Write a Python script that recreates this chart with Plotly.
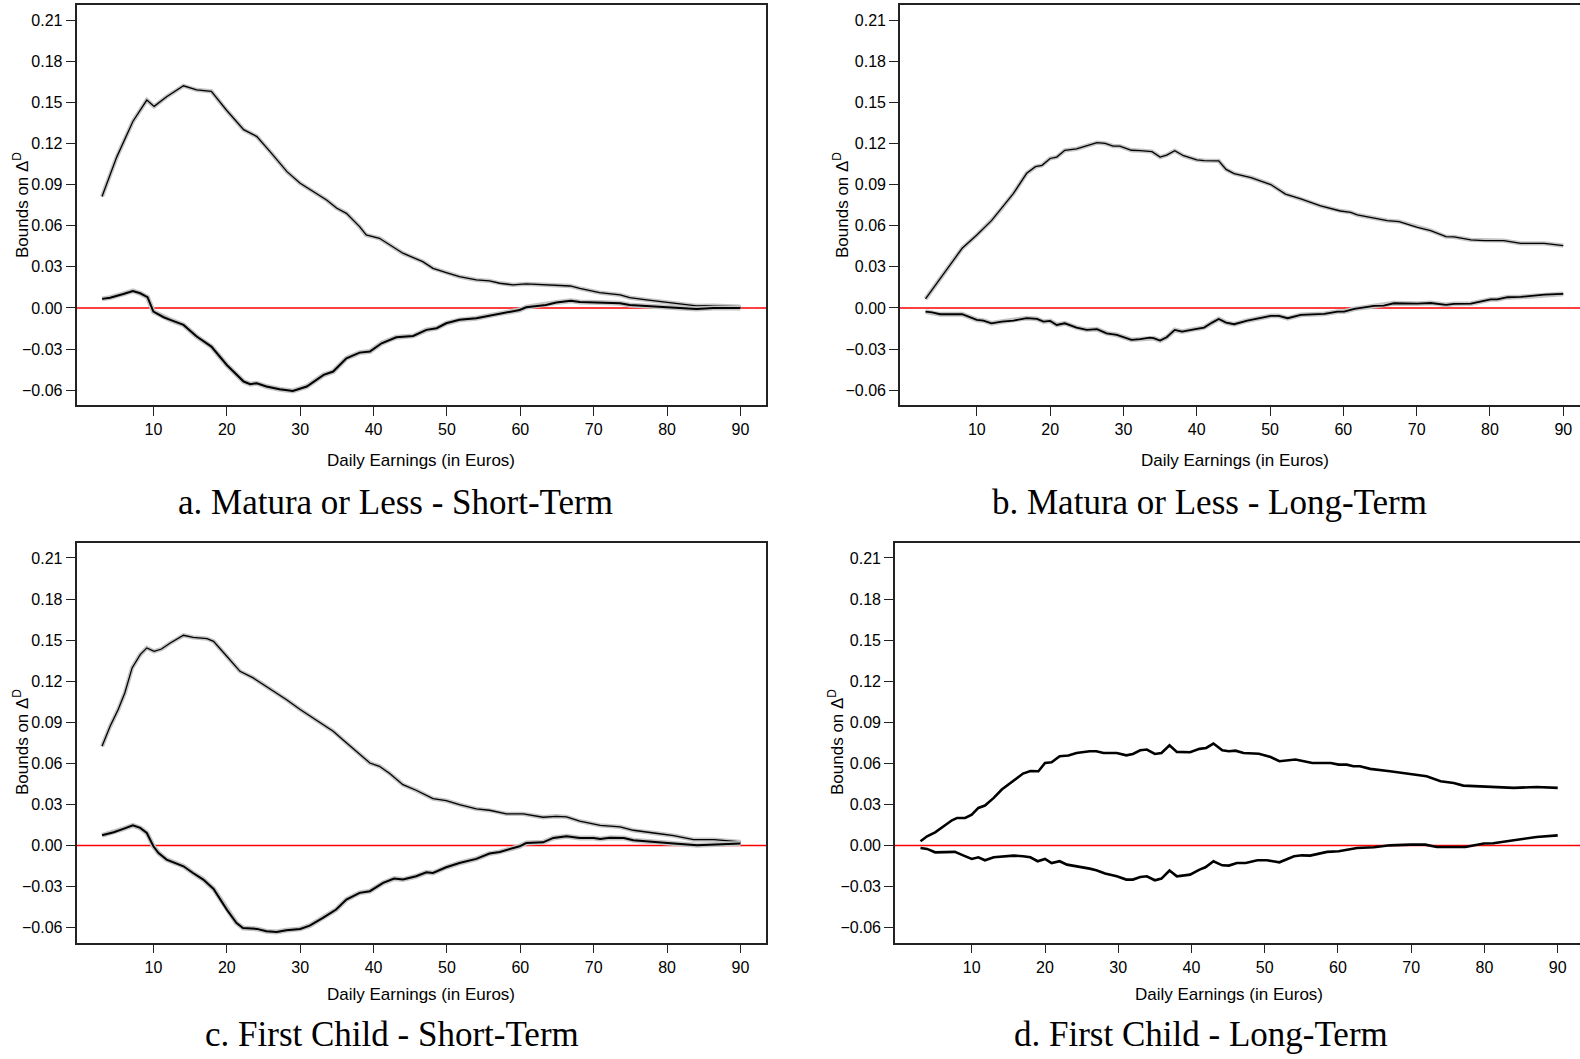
import plotly.graph_objects as go

# ---------------- data ----------------
# Panel a: Matura or Less - Short-Term
a_up_x = [3, 5.0, 7.2, 8.2, 9.1, 10.1, 11.8, 14.1, 15.9, 17.9, 20, 22.3, 24.1, 25.9, 28.2, 30, 31.8, 33.6, 35, 36.3,
          38.1, 39, 40.8, 42.7, 44, 46.7, 48.1, 49.9, 51.7, 54, 55.8, 57.2, 59, 60.8, 63.1, 65.4, 66.8, 68.1, 70.8,
          73.6, 74.9, 77.2, 79.9, 81.7, 84, 86.3, 90]
a_up_y = [.0812, .110, .136, .144, .1516, .147, .154, .162, .159, .158, .144, .130, .125, .114, .0994, .0909, .0848,
          .0787, .0727, .069, .0593, .0532, .0508, .0447, .0399, .0338, .0289, .0258, .0228, .0204, .0197, .018, .0168,
          .0175, .0168, .0163, .016, .0143, .0112, .0095, .0075, .0058, .0041, .0029, .0015, .0017, .001]
a_lo_x = [3, 4.1, 5.9, 7.2, 8.2, 9.2, 10, 11.4, 12.3, 14.1, 15.9, 17.9, 20, 22.3, 23.2, 24.1, 25.4, 27.2, 29, 30.9,
          33.2, 34.5, 36.3, 38.1, 39.5, 41.1, 43.1, 45.4, 47.2, 48.6, 49.9, 51.7, 54, 56.3, 58.1, 59.9, 60.8, 63.5,
          64.9, 66.9, 68.1, 70.8, 73.6, 74.9, 77.2, 79.9, 84, 86.3, 90]
a_lo_y = [.0066, .0075, .0102, .0124, .0107, .0078, -.0027, -.0068, -.0087, -.0124, -.0209, -.0282, -.0416, -.0537,
          -.0556, -.0549, -.0573, -.0593, -.0605, -.0573, -.0488, -.0464, -.0367, -.0326, -.0318, -.0258, -.0214,
          -.0204, -.016, -.0148, -.0112, -.0087, -.0075, -.0051, -.0034, -.0015, .0005, .0022, .0039, .0053, .0044,
          .0039, .0034, .0022, .0015, .001, -.0007, 0, 0]

# Panel b: Matura or Less - Long-Term
b_up_x = [3, 4.5, 5.9, 7, 8, 10, 12, 13.4, 15, 16.8, 18, 18.9, 20, 20.9, 22, 23.6, 25, 26.4, 27.5, 28.6, 29.5, 31.1,
          32.3, 33.9, 35, 35.9, 37, 38.2, 40, 41, 43, 44, 45.1, 47.4, 50.1, 52.1, 54.2, 56.9, 59.6, 61, 61.9, 63.7,
          66, 67.6, 70.1, 71.9, 74, 75.1, 77.4, 79.2, 81.9, 84.2, 87.4, 90]
b_up_y = [.0066, .018, .0282, .0362, .0435, .0532, .0637, .0727, .0836, .0982, .103, .104, .109, .110, .115, .116,
          .118, .1205, .120, .118, .118, .115, .1147, .114, .110, .1115, .1147, .111, .108, .1074, .1072, .101, .098,
          .095, .090, .083, .0795, .0744, .0707, .0697, .0678, .066, .0637, .063, .0588, .0564, .052, .0518, .0496,
          .0491, .0491, .0471, .0471, .0454]
b_lo_x = [3, 3.9, 5, 8, 10, 10.9, 12, 13.4, 15, 16.8, 18.2, 19.1, 20, 20.9, 22, 23.6, 25, 26.4, 27.7, 29.1, 31.1,
          32.3, 33.6, 34.1, 35, 35.9, 37, 38, 40, 41, 42.1, 43, 44, 45.1, 46.9, 50.1, 51.2, 52.4, 54.2, 57.4, 59.2,
          60.1, 61.5, 64.2, 65.5, 66.9, 70.1, 71.9, 74, 75.1, 77.4, 80.1, 81, 82.4, 84.2, 87.4, 90]
b_lo_y = [-.0027, -.0032, -.0046, -.0046, -.0087, -.0092, -.0112, -.010, -.0092, -.0075, -.008, -.010, -.0095,
          -.0124, -.0112, -.0143, -.016, -.0155, -.0185, -.0197, -.0233, -.0228, -.0216, -.0221, -.0238, -.0214,
          -.016, -.0173, -.0152, -.0143, -.0107, -.008, -.0107, -.0119, -.0092, -.0058, -.0058, -.0075, -.0051,
          -.0044, -.0027, -.0027, -.0007, .0015, .0017, .0034, .0032, .0036, .0022, .0029, .0032, .0063, .0063,
          .0078, .008, .0097, .0102]

# Panel c: First Child - Short-Term
c_up_x = [3, 4.1, 5.2, 6.1, 7.1, 8.2, 9.1, 10.1, 11.1, 12.3, 14.1, 15.4, 17.3, 18.2, 20, 21.8, 23.6, 25.4, 26.8,
          28.1, 30, 32.7, 34.5, 35.9, 37.7, 39.5, 40.8, 42.2, 44, 45.8, 48.1, 49.9, 51.7, 54, 55.8, 58.1, 60.4, 63.1,
          64.9, 66.3, 68.1, 70.9, 73.6, 75.4, 78.2, 80.9, 83.6, 86.4, 90]
c_up_y = [.0725, .0871, .0993, .1114, .1297, .1394, .1443, .1418, .1435, .1479, .1535, .152, .1511, .1491, .1382,
          .1272, .1224, .1163, .1114, .1066, .0993, .0895, .0835, .0769, .0689, .0603, .0579, .0526, .0445, .0404,
          .0343, .0328, .0299, .0268, .0258, .0231, .0231, .0207, .0214, .0209, .0178, .0148, .0136, .0112, .0092,
          .0073, .0044, .0044, .0027]
c_lo_x = [3, 4.6, 5.9, 7.2, 8.2, 9.1, 10, 10.7, 11.8, 13.2, 14.1, 15.4, 16.8, 18.2, 20, 21.3, 22.2, 24.1, 25.4,
          26.8, 28.1, 30, 31.3, 33.1, 34.9, 36.3, 38.1, 39.5, 41.3, 42.8, 44, 45.8, 47.2, 48.1, 49.9, 51.7, 54, 55.8,
          57.2, 59.9, 60.8, 63.1, 64.5, 66.3, 68.1, 70, 70.9, 72.2, 74.1, 75.4, 78.2, 80.9, 84.1, 86.4, 90]
c_lo_y = [.0075, .0097, .0122, .0148, .0129, .0092, -.0005, -.0054, -.0102, -.0131, -.0151, -.020, -.0248, -.0316,
          -.0467, -.0564, -.0601, -.0608, -.0625, -.063, -.0618, -.0608, -.0584, -.0528, -.0467, -.0394, -.0345,
          -.0333, -.0272, -.0241, -.0248, -.0224, -.0195, -.020, -.0158, -.0127, -.0097, -.0058, -.0046, -.0005,
          .0019, .0024, .0056, .0068, .0056, .0056, .0049, .0058, .0056, .0039, .0024, .0015, .0002, .0007, .0015]

# Panel d: First Child - Long-Term
d_up_x = [3, 3.9, 5, 6.1, 7.3, 8, 9.1, 10, 10.9, 11.8, 13, 14.1, 15.2, 16.1, 17, 18, 19.1, 20, 20.9, 22, 23.2, 24.3,
          26.1, 27, 28, 29.8, 31.1, 32, 33, 33.9, 35, 35.9, 37, 38, 39.8, 41.1, 42, 43, 44.2, 45.1, 46, 47.1, 49.2,
          50.8, 52, 54.2, 55.1, 56.5, 59, 60.1, 61.2, 62.1, 63, 64.4, 67.1, 69.9, 72.1, 74, 75.8, 77.1, 79.9, 81.2,
          84, 87.1, 90]
d_up_y = [.0032, .0068, .0097, .0141, .0185, .0202, .0202, .0226, .0275, .0292, .0348, .0409, .0453, .0489, .0526,
          .0545, .0543, .0603, .0608, .0652, .0657, .0676, .0689, .0689, .0676, .0676, .0659, .0669, .0696, .0701,
          .0669, .0676, .0732, .0684, .0681, .0706, .0713, .0745, .0696, .0689, .0693, .0676, .0671, .0647, .0616,
          .0628, .062, .0603, .0603, .0591, .0591, .0579, .0579, .056, .0543, .0523, .0506, .047, .0457, .0438,
          .0433, .0426, .0421, .0428, .0421]
d_lo_x = [3, 3.9, 5, 6.4, 7.7, 8.9, 10, 10.9, 11.8, 13, 14.1, 15.7, 17, 18, 19, 20, 20.9, 22, 23, 24.5, 26.1, 27,
          28.2, 29.8, 31.1, 32, 33, 33.9, 35, 35.9, 37, 38, 39.8, 41.1, 41.9, 43, 44.2, 45.1, 46.2, 47.4, 49, 50.3,
          52, 54, 55.1, 56.2, 58.5, 60.1, 61.2, 62.6, 64.9, 67.1, 69.9, 71.9, 73.5, 75.8, 77.4, 79.9, 81.2, 84,
          85.3, 87.1, 90]
d_lo_y = [-.0017, -.0024, -.0049, -.0049, -.0046, -.0073, -.0097, -.0085, -.0107, -.0085, -.0078, -.0073, -.0078,
          -.0085, -.0114, -.0097, -.0127, -.0114, -.0139, -.0151, -.0168, -.018, -.0204, -.0224, -.0248, -.0248,
          -.0229, -.0224, -.0253, -.0241, -.0182, -.0224, -.0212, -.0175, -.0158, -.0114, -.0144, -.0146, -.0127,
          -.0127, -.0107, -.0107, -.0122, -.0078, -.0071, -.0073, -.0046, -.0041, -.0029, -.0017, -.0012, .0002,
          .0007, .0007, -.001, -.0007, -.001, .0015, .0017, .0039, .0051, .0063, .0075]

y_ticks = [-0.06, -0.03, 0.00, 0.03, 0.06, 0.09, 0.12, 0.15, 0.18, 0.21]
y_ticklabels = ["\u22120.06", "\u22120.03", "0.00", "0.03", "0.06", "0.09", "0.12", "0.15", "0.18", "0.21"]
x_ticks = [10, 20, 30, 40, 50, 60, 70, 80, 90]
captions = ["a. Matura or Less - Short-Term", "b. Matura or Less - Long-Term",
            "c. First Child - Short-Term", "d. First Child - Long-Term"]
x_title = "Daily Earnings (in Euros)"
y_title = "Bounds on \u0394<sup>D</sup>"

for xs, ys in [(a_up_x, a_up_y), (a_lo_x, a_lo_y), (b_up_x, b_up_y), (b_lo_x, b_lo_y),
               (c_up_x, c_up_y), (c_lo_x, c_lo_y), (d_up_x, d_up_y), (d_lo_x, d_lo_y)]:
    assert len(xs) == len(ys), (len(xs), len(ys))

# ---------------- layout ----------------
W, H = 1580, 1059
def fx(px):
    return px / W
def fy(py):
    return 1 - py / H

panels = [
    dict(curves=[(a_up_x, a_up_y, 1.3), (a_lo_x, a_lo_y, 2.0)], xd=[fx(76.5), fx(766)], yd=[fy(405), fy(5.2)],
         xr=[-0.48, 93.48], mirror=True, halo=True,
         ytitle=(21, 205), xtitle=(421, 461), cap=(395, 502)),
    dict(curves=[(b_up_x, b_up_y, 1.3), (b_lo_x, b_lo_y, 1.8)], xd=[fx(900), 1.0], yd=[fy(405), fy(5.2)],
         xr=[-0.48, 92.28], mirror=False, halo=True,
         ytitle=(841, 205), xtitle=(1235, 461), cap=(1209, 502)),
    dict(curves=[(c_up_x, c_up_y, 1.3), (c_lo_x, c_lo_y, 2.0)], xd=[fx(76.5), fx(766)], yd=[fy(942.6), fy(543.1)],
         xr=[-0.48, 93.48], mirror=True, halo=True,
         ytitle=(21, 742), xtitle=(421, 994), cap=(392, 1034)),
    dict(curves=[(d_up_x, d_up_y, 2.6), (d_lo_x, d_lo_y, 2.6)], xd=[fx(895), 1.0], yd=[fy(942.6), fy(543.1)],
         xr=[-0.48, 93.04], mirror=False, halo=False,
         ytitle=(836, 742), xtitle=(1229, 994), cap=(1201, 1034)),
]

fig = go.Figure()
tick_font = dict(family="Liberation Sans, Arial, sans-serif", size=16, color="black")
title_font = dict(family="Liberation Sans, Arial, sans-serif", size=17, color="black")
cap_font = dict(family="Liberation Serif, Times New Roman, serif", size=35, color="black")
annotations = []
shapes = []
for i, p in enumerate(panels):
    n = "" if i == 0 else str(i + 1)
    xa, ya = "x" + n, "y" + n
    for xs, ys, w in p["curves"]:
        if p["halo"]:
            fig.add_trace(go.Scatter(x=xs, y=ys, xaxis=xa, yaxis=ya, mode="lines",
                                     line=dict(color="#c4c4c4", width=w + 3.0), hoverinfo="skip",
                                     showlegend=False))
        fig.add_trace(go.Scatter(x=xs, y=ys, xaxis=xa, yaxis=ya, mode="lines",
                                 line=dict(color="black", width=w), showlegend=False))
    fig.layout["xaxis" + n] = dict(domain=p["xd"], range=p["xr"], anchor=ya, showgrid=False, zeroline=False,
                                   showline=True, mirror=True, linecolor="#222", linewidth=1.6,
                                   ticks="outside", ticklen=9, tickwidth=1.4, tickcolor="#222",
                                   tickmode="array", tickvals=x_ticks, tickfont=tick_font)
    fig.layout["yaxis" + n] = dict(domain=p["yd"], range=[-0.0708, 0.2208], anchor=xa, showgrid=False,
                                   zeroline=False, showline=True, mirror=p["mirror"], linecolor="#222",
                                   linewidth=1.6, ticks="outside", ticklen=9, tickwidth=1.4, tickcolor="#222",
                                   tickmode="array", tickvals=y_ticks, ticktext=y_ticklabels, tickfont=tick_font)
    shapes.append(dict(type="line", xref=xa + " domain", yref=ya, x0=0, x1=1, y0=0, y1=0,
                       line=dict(color="red", width=1.5), layer="below"))
    annotations.append(dict(text=y_title, x=fx(p["ytitle"][0]), y=fy(p["ytitle"][1]), xref="paper", yref="paper",
                            textangle=-90, showarrow=False, xanchor="center", yanchor="middle", font=title_font))
    annotations.append(dict(text=x_title, x=fx(p["xtitle"][0]), y=fy(p["xtitle"][1]), xref="paper", yref="paper",
                            showarrow=False, xanchor="center", yanchor="middle", font=title_font))
    annotations.append(dict(text=captions[i], x=fx(p["cap"][0]), y=fy(p["cap"][1]), xref="paper", yref="paper",
                            showarrow=False, xanchor="center", yanchor="middle", font=cap_font))

fig.update_layout(width=W, height=H, margin=dict(l=0, r=0, t=0, b=0), paper_bgcolor="white",
                  plot_bgcolor="white", showlegend=False, annotations=annotations, shapes=shapes)

fig.write_html("out.html", config={"displayModeBar": False},
               post_script="document.body.style.margin='0';document.body.style.overflow='hidden';")
